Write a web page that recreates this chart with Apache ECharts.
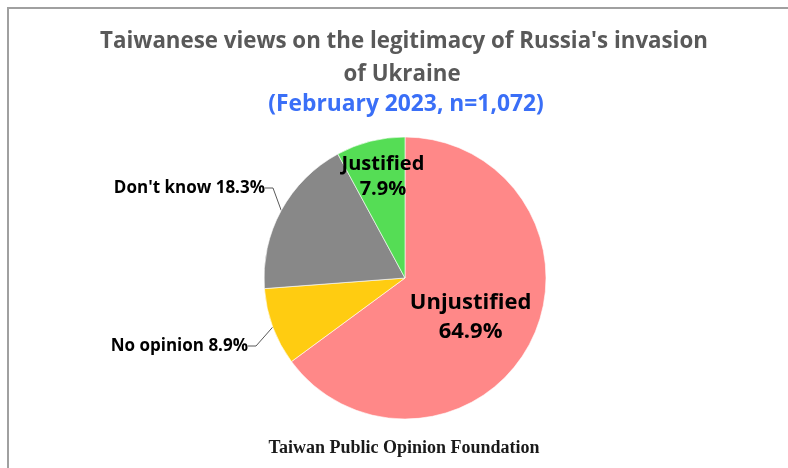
<!DOCTYPE html>
<html>
<head>
<meta charset="utf-8">
<script src="https://cdn.jsdelivr.net/npm/echarts@6/dist/echarts.min.js"></script>
<style>
html,body{margin:0;padding:0;background:#fff;}
#chart{width:788px;height:468px;}
</style>
</head>
<body>
<div id="chart"></div>
<script>
const categories = ['Unjustified', 'No opinion', "Don't know", 'Justified'];
const values = [64.9, 8.9, 18.3, 7.9];
const colors = ['#FF8888', '#FFCC11', '#888888', '#55DD55'];
const titleLines = ["Taiwanese views on the legitimacy of Russia's invasion", 'of Ukraine'];
const subtitleText = '(February 2023, n=1,072)';
const sourceText = 'Taiwan Public Opinion Foundation';

const labelPlacement = {
  'Unjustified': {dx: 0, dy: 6},
  'Justified': {dx: -4, dy: -30},
  "Don't know": {x: 265, y: 188, align: 'right'},
  'No opinion': {x: 248, y: 346, align: 'right'}
};

const FONT = '"Open Sans"';
const chart = echarts.init(document.getElementById('chart'), null, {renderer: 'canvas'});

const data = categories.map((name, i) => {
  const inside = name === 'Unjustified' || name === 'Justified';
  return {
    name: name,
    value: values[i],
    itemStyle: {color: colors[i]},
    label: inside ? {
      position: 'inside',
      formatter: '{b}\n{c}%',
      fontSize: name === 'Unjustified' ? 22 : 20,
      lineHeight: name === 'Unjustified' ? 29 : 25,
      fontWeight: 'bold',
      color: '#000',
      fontFamily: FONT
    } : {
      position: 'outside',
      formatter: '{b} {c}%',
      fontSize: 17,
      fontWeight: 'bold',
      color: '#000',
      fontFamily: FONT
    },
    labelLine: inside ? {show: false} : {show: true, length: 15, length2: 8, lineStyle: {color: '#595959', width: 1}}
  };
});

chart.setOption({
  backgroundColor: '#fff',
  animation: false,
  graphic: [
    {type: 'rect', shape: {x: 8, y: 8, width: 800, height: 480}, style: {fill: 'none', stroke: '#a0a0a0', lineWidth: 2}, silent: true},
    {type: 'text', style: {text: titleLines[0], x: 404, y: 42, textAlign: 'center', textVerticalAlign: 'middle', fill: '#595959', font: 'bold 22.3px ' + FONT}},
    {type: 'text', style: {text: titleLines[1], x: 402, y: 75, textAlign: 'center', textVerticalAlign: 'middle', fill: '#595959', font: 'bold 22.3px ' + FONT}},
    {type: 'text', style: {text: subtitleText, x: 406, y: 105, textAlign: 'center', textVerticalAlign: 'middle', fill: '#3A6FF7', font: 'bold 22.8px ' + FONT}},
    {type: 'text', style: {text: sourceText, x: 404, y: 448, textAlign: 'center', textVerticalAlign: 'middle', fill: '#1a1a1a', font: 'bold 18px "Liberation Serif"'}}
  ],
  series: [{
    type: 'pie',
    center: [405, 278],
    radius: 141,
    startAngle: 90,
    clockwise: true,
    avoidLabelOverlap: false,
    itemStyle: {borderColor: '#ffffff', borderWidth: 0.6},
    labelLayout: function (params) {
      const p = labelPlacement[categories[params.dataIndex]];
      return Object.assign({verticalAlign: 'middle'}, p);
    },
    data: data
  }]
});
</script>
</body>
</html>
